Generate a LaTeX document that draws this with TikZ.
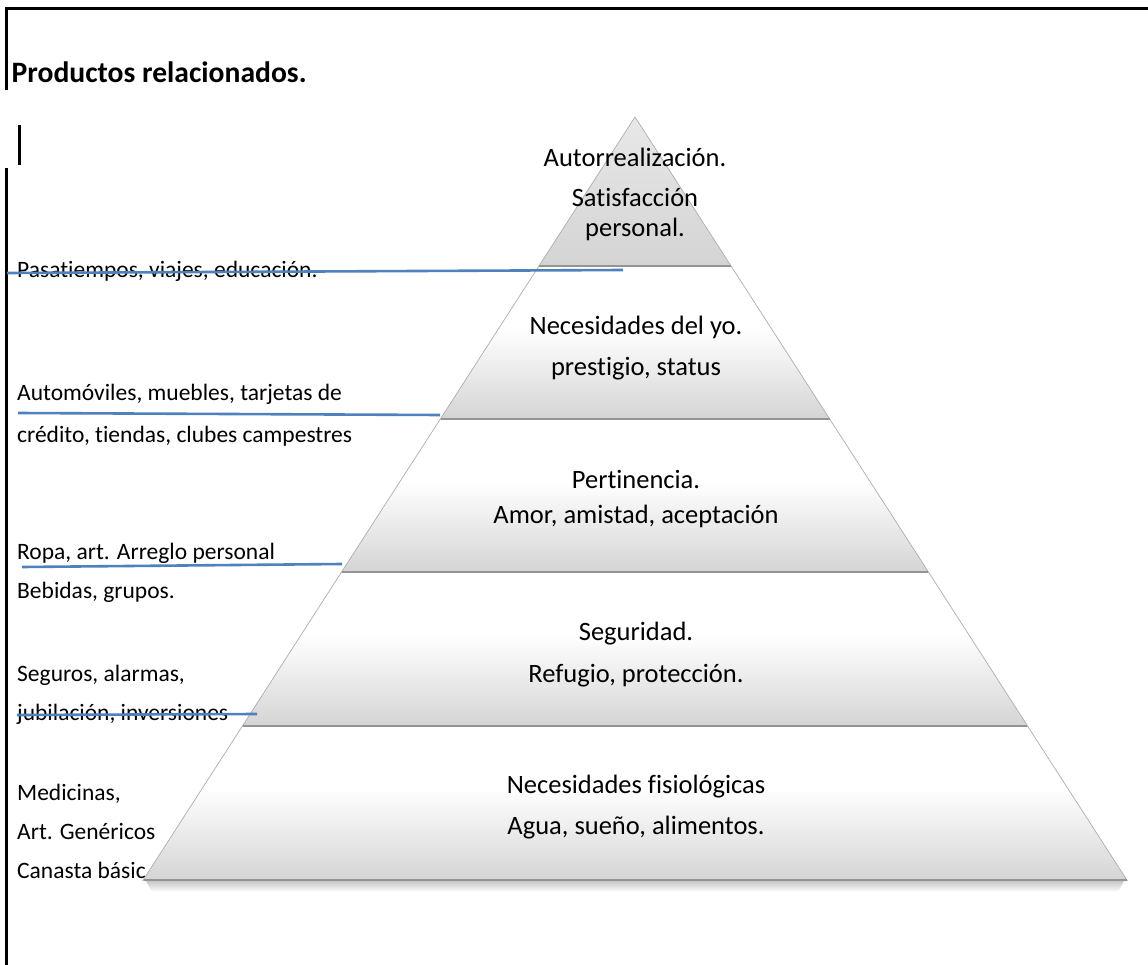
\documentclass[tikz,border=0pt]{standalone}
\usepackage{fontspec}
\setmainfont{Carlito}[Ligatures={NoCommon}]
\definecolor{segbot}{RGB}{212,212,212}
\definecolor{lineblue}{RGB}{79,129,189}
\pgfdeclareverticalshading{segshade}{100bp}{color(0bp)=(segbot); color(25bp)=(segbot); color(55bp)=(white); color(100bp)=(white)}
\pgfdeclareverticalshading{topshade}{100bp}{color(0bp)=(black!17); color(25bp)=(black!17); color(75bp)=(black!9); color(100bp)=(black!9)}
\pgfdeclareverticalshading{baseshadow}{100bp}{color(0bp)=(white); color(25bp)=(white); color(75bp)=(black!22); color(100bp)=(black!22)}
\tikzset{
  pyrseg/.style={shading=segshade},
  pyrtop/.style={shading=topshade},
  segedge/.style={draw=black!32, line width=0.7pt},
  segbase/.style={draw=black!42, line width=1.6pt},
  pyrtext/.style={font=\fontsize{26.5}{30}\selectfont, anchor=base, inner sep=0pt},
  lbl/.style={font=\fontsize{23.5}{28}\selectfont, anchor=base west, inner sep=0pt},
  blueline/.style={draw=lineblue, line width=2.6pt},
  frame/.style={draw=black, line width=3pt}
}
\begin{document}
\begin{tikzpicture}[x=1pt,y=-1pt]
\useasboundingbox (0,0) rectangle (1148,965);
% frame
\draw[frame] (6.5,90) -- (6.5,8.5) -- (1148,8.5);
\draw[frame] (19.5,125) -- (19.5,165);
\draw[frame] (6.5,168) -- (6.5,965);
% title
\node[font=\fontsize{29.6}{34}\selectfont\bfseries, anchor=base west, inner sep=0pt] (title) at (11.5,83) {Productos relacionados.};
% left labels
\node[lbl] (l1) at (17,278) {Pasatiempos, viajes, educación.};
\node[lbl] (l2) at (17,400) {Automóviles, muebles, tarjetas de};
\node[lbl] (l3) at (17,442) {crédito, tiendas, clubes campestres};
\node[lbl] (l4) at (17,559) {Ropa, art. Arreglo personal};
\node[lbl] (l5) at (17,598) {Bebidas, grupos.};
\node[lbl] (l6) at (17,681) {Seguros, alarmas,};
\node[lbl] (l7) at (17,720) {jubilación, inversiones};
\node[lbl] (l8) at (17,800) {Medicinas,};
\node[lbl] (l9) at (17,839) {Art. Genéricos};
\node[lbl] (l10) at (17,878) {Canasta básic};
% base shadow
\path[shading=baseshadow] (146,881) -- (1124,881) -- (1118,892) -- (152,892) -- cycle;
% pyramid segments
\path[pyrtop] (635,117) -- (731.7,267) -- (538.3,267) -- cycle;
\path[pyrseg] (538.3,267) -- (731.7,267) -- (830.3,420) -- (439.7,420) -- cycle;
\path[pyrseg] (439.7,420) -- (830.3,420) -- (929.1,573) -- (340.9,573) -- cycle;
\path[pyrseg] (340.9,573) -- (929.1,573) -- (1028.2,727) -- (241.8,727) -- cycle;
\path[pyrseg] (241.8,727) -- (1028.2,727) -- (1127.5,881) -- (142.5,881) -- cycle;
% edges
\draw[segedge] (538.3,267) -- (635,117) -- (731.7,267);
\draw[segedge] (538.3,267) -- (439.7,420);
\draw[segedge] (731.7,267) -- (830.3,420);
\draw[segedge] (439.7,420) -- (340.9,573);
\draw[segedge] (830.3,420) -- (929.1,573);
\draw[segedge] (340.9,573) -- (241.8,727);
\draw[segedge] (929.1,573) -- (1028.2,727);
\draw[segedge] (241.8,727) -- (142.5,881);
\draw[segedge] (1028.2,727) -- (1127.5,881);
\draw[segbase] (539,266.2) -- (731,266.2);
\draw[segbase] (440.5,419.2) -- (829.5,419.2);
\draw[segbase] (341.7,572.2) -- (928.3,572.2);
\draw[segbase] (242.6,726.2) -- (1027.4,726.2);
\draw[segbase] (143.5,880.2) -- (1126.5,880.2);
% pyramid texts
\node[pyrtext] (t1a) at (635,167) {Autorrealización.};
\node[pyrtext] (t1b) at (635,207) {Satisfacción};
\node[pyrtext] (t1c) at (635,237) {personal.};
\node[pyrtext] (t2a) at (636,335) {Necesidades del yo.};
\node[pyrtext] (t2b) at (636,375) {prestigio, status};
\node[pyrtext] (t3a) at (636,488) {Pertinencia.};
\node[pyrtext] (t3b) at (636,523) {Amor, amistad, aceptación};
\node[pyrtext] (t4a) at (636,640) {Seguridad.};
\node[pyrtext] (t4b) at (636,682) {Refugio, protección.};
\node[pyrtext] (t5a) at (636,793) {Necesidades fisiológicas};
\node[pyrtext] (t5b) at (636,834) {Agua, sueño, alimentos.};
% blue lines
\coordinate (b1s) at (7,273);
\coordinate (b1e) at (623,270);
\coordinate (b2s) at (18,413);
\coordinate (b2e) at (440,415);
\coordinate (b3s) at (22,567);
\coordinate (b3e) at (342,564);
\coordinate (b4s) at (17,715);
\coordinate (b4e) at (257,714);
\draw[blueline] (b1s) -- (b1e);
\draw[blueline] (b2s) -- (b2e);
\draw[blueline] (b3s) -- (b3e);
\draw[blueline] (b4s) -- (b4e);
\end{tikzpicture}
\end{document}
